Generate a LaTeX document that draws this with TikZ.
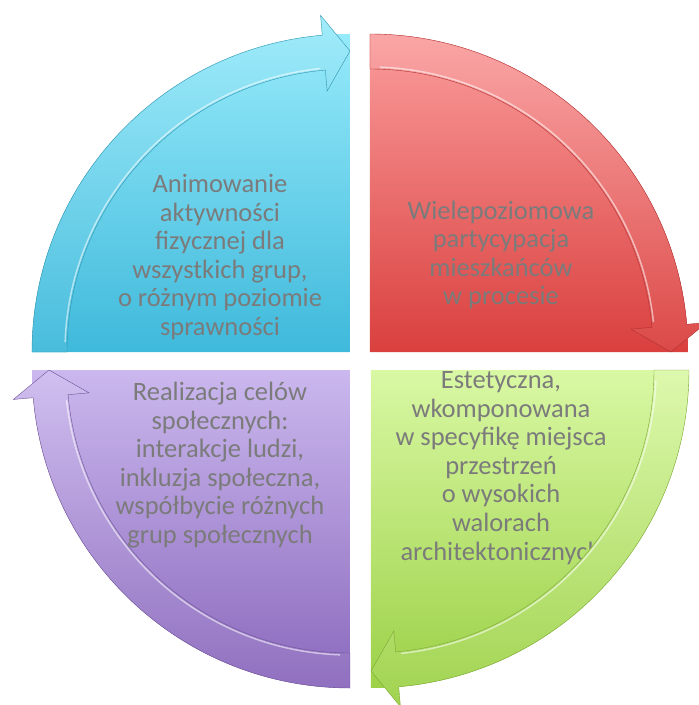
\documentclass[tikz,border=0pt]{standalone}
\usepackage{fontspec}
\setmainfont{Carlito}
\usetikzlibrary{positioning, calc}

\definecolor{blueTop}{HTML}{96EAFA}
\definecolor{blueBot}{HTML}{3FB9DB}
\definecolor{redTop}{HTML}{FA9C9C}
\definecolor{redBot}{HTML}{D9403E}
\definecolor{greenTop}{HTML}{D9F8A4}
\definecolor{greenBot}{HTML}{9CD147}
\definecolor{purpleTop}{HTML}{CBB8EE}
\definecolor{purpleBot}{HTML}{8A68BC}
\definecolor{textGray}{HTML}{7B7B7B}

\begin{document}
\begin{tikzpicture}[
    x=1pt, y=1pt,
    % Styles
    quadtext/.style={ % text inside a quarter
        align=center,
        text=textGray,
        inner sep=0pt,
        font=\fontsize{26.5}{28.6}\selectfont
    },
    gloss/.style={ % highlight along the inner edge of a band
        white,
        opacity=.55,
        line width=1.5pt
    }
]
    \useasboundingbox (-360,-344) rectangle (339,361);

    % Corners of the four quarters
    \coordinate (c-blue) at (-10,9);
    \coordinate (c-red) at (10,9);
    \coordinate (c-green) at (11,-9);
    \coordinate (c-purple) at (-10,-9);

    % Quarters
    \foreach \q/\a in {blue/180, red/90, green/0, purple/270} {
        \shade[top color=\q Top, bottom color=\q Bot]
            (c-\q) -- ($(c-\q)+(\a:318)$) arc[start angle=\a, end angle=\a-90, radius=318] -- cycle;
    }

    % Text under the green band
    \node[quadtext] (tGreen) at (141,-107)
        {Estetyczna,\\wkomponowana\\w specyfikę miejsca\\przestrzeń\\o wysokich\\walorach\\architektonicznych};

    % Curved arrows along the rims
    \foreach \q/\a in {blue/180, red/90, green/0, purple/270} {
        \shade[top color=\q Top!90!white, bottom color=\q Bot!95!white, draw=\q Bot!80!black, line width=.4pt]
            ($(c-\q)+(\a:318)$) arc[start angle=\a, end angle=\a-85, radius=318]
            -- ($(c-\q)+(\a-85:338)$)
            -- ($(c-\q)+(\a-90:301)$)
            -- ($(c-\q)+(\a-85:262)$)
            -- ($(c-\q)+(\a-85:283)$) arc[start angle=\a-85, end angle=\a, radius=283]
            -- cycle;
        \draw[gloss] ($(c-\q)+(\a-2:285)$) arc[start angle=\a-2, end angle=\a-84, radius=285];
    }

    % Texts
    \node[quadtext] (tBlue) at (-140,104)
        {Animowanie\\aktywności\\fizycznej dla\\wszystkich grup,\\o różnym poziomie\\sprawności};
    \node[quadtext] (tRed) at (141,106)
        {Wielepoziomowa\\partycypacja\\mieszkańców\\w procesie};
    \node[quadtext] (tPurple) at (-140,-104)
        {Realizacja celów\\społecznych:\\interakcje ludzi,\\inkluzja społeczna,\\współbycie różnych\\grup społecznych};
\end{tikzpicture}
\end{document}
